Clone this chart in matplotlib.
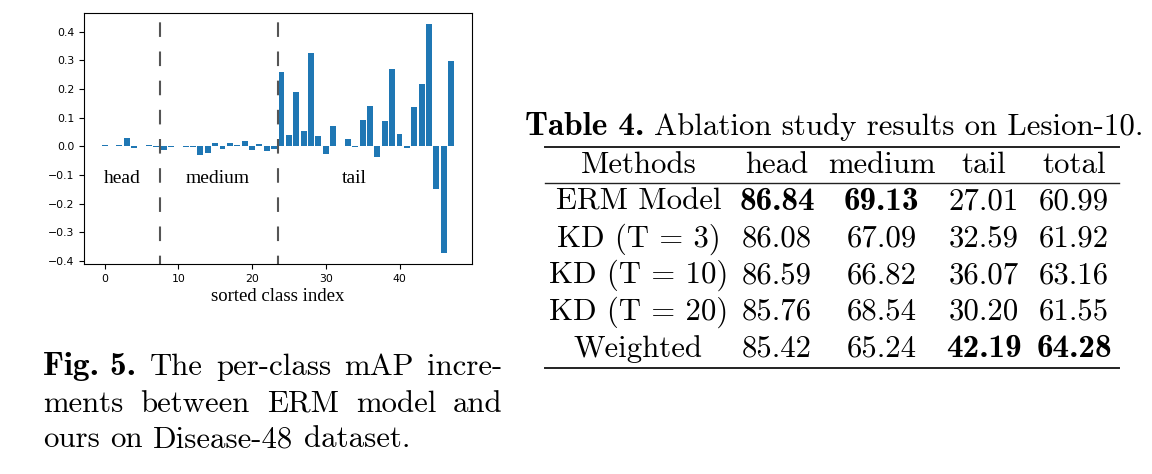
import numpy as np
import matplotlib
matplotlib.use('Agg')
import matplotlib.pyplot as plt
from matplotlib.lines import Line2D

# per-class mAP increments, sorted class index 0..47
increments = [0.003, 0.002, 0.003, 0.029, -0.005, 0.002, 0.004, -0.002,
              -0.013, -0.001, 0.001, -0.001, -0.003, -0.029, -0.022, 0.012,
              -0.008, 0.010, 0.005, 0.018, -0.013, 0.009, -0.015, -0.008,
              0.259, 0.039, 0.189, 0.053, 0.325, 0.036, -0.027, 0.071,
              0.002, 0.026, -0.004, 0.092, 0.140, -0.037, 0.088, 0.269,
              0.043, -0.005, 0.137, 0.217, 0.425, -0.148, -0.371, 0.297]
group_bounds = [7.5, 23.5]
group_names = ['head', 'medium', 'tail']
group_label_x = [2.4, 15.3, 33.8]

# Table 4 data
methods = ['ERM Model', 'KD (T = 3)', 'KD (T = 10)', 'KD (T = 20)', 'Weighted']
col_names = ['Methods', 'head', 'medium', 'tail', 'total']
head = [86.84, 86.08, 86.59, 85.76, 85.42]
medium = [69.13, 67.09, 66.82, 68.54, 65.24]
tail = [27.01, 32.59, 36.07, 30.20, 42.19]
total = [60.99, 61.92, 63.16, 61.55, 64.28]

table_title = ('Table 4.', 'Ablation study results on Lesion-10.')
caption_lines = [
    ('Fig. 5.', ['The', 'per-class', 'mAP', 'incre-']),
    (None, ['ments', 'between', 'ERM', 'model', 'and']),
    (None, ['ours', 'on', 'Disease-48', 'dataset.']),
]

W, H = 1152, 474
fig = plt.figure(figsize=(W / 100, H / 100), dpi=100)
renderer = fig.canvas.get_renderer()

RM, BF = 'cmr10', 'cmb10'
TXT = 22.2
BTXT = TXT * 1.08  # cmb10 is narrower than LaTeX's bold extended


def fxy(x, y):
    return x / W, 1 - y / H


def measure(s, family, size):
    t = fig.text(0, 0, s, family=family, fontsize=size)
    w = t.get_window_extent(renderer).width
    t.remove()
    return w


# ---- bar chart ----
ax = fig.add_axes([84 / W, 1 - 264 / H, (471.7 - 84) / W, (264 - 13) / H])
idx = np.arange(len(increments))
ax.bar(idx, increments, color='#1f77b4', width=0.8)
for b in group_bounds:
    ax.axvline(b, color='#555555', lw=1.5, linestyle=(3, (7, 7)))
for name, gx in zip(group_names, group_label_x):
    ax.text(gx, -0.128, name, ha='center', va='baseline',
            family='Liberation Serif', fontsize=14)
ax.set_yticks(np.arange(-0.4, 0.41, 0.1))
ax.tick_params(labelsize=7.8)
ax.set_xlabel('sorted class index', family='Liberation Serif', fontsize=13.5,
              labelpad=3)

# ---- caption ----
space_w = measure('a a', RM, TXT) - measure('aa', RM, TXT)
cap_x0, cap_x1 = 43.3, 502.7
cap_y = [375, 411.7, 447]
for li, ((bold, words), y) in enumerate(zip(caption_lines, cap_y)):
    tokens = ([(bold, BF, BTXT)] if bold else []) + [(w_, RM, TXT) for w_ in words]
    widths = [measure(t, f, s) for t, f, s in tokens]
    last = li == len(caption_lines) - 1
    gap = space_w if last else (cap_x1 - cap_x0 - sum(widths)) / (len(tokens) - 1)
    x = cap_x0
    for (t, f, s), w_ in zip(tokens, widths):
        fig.text(*fxy(x, y), t, family=f, fontsize=s, va='baseline')
        x += w_ + gap

# ---- table ----
tx = 525
fig.text(*fxy(tx, 135), table_title[0], family=BF, fontsize=BTXT, va='baseline')
tx += measure(table_title[0], BF, BTXT) + space_w
fig.text(*fxy(tx, 135), table_title[1], family=RM, fontsize=TXT, va='baseline')

col_x = [638.5, 777, 881.5, 984, 1074]
header_y = 172.7
row_y = [210, 246.7, 283, 320, 356.7]
for cx, name in zip(col_x, col_names):
    fig.text(*fxy(cx, header_y), name, family=RM, fontsize=TXT,
             ha='center', va='baseline')
columns = [head, medium, tail, total]
for r, (m, y) in enumerate(zip(methods, row_y)):
    fig.text(*fxy(col_x[0], y), m, family=RM, fontsize=TXT,
             ha='center', va='baseline')
    for c, vals in enumerate(columns):
        best = vals[r] == max(vals)
        fig.text(*fxy(col_x[c + 1], y), f'{vals[r]:.2f}',
                 family=BF if best else RM, fontsize=BTXT if best else TXT,
                 ha='center', va='baseline')

for y, lw in [(146.7, 1.4), (183.3, 1.0), (367.7, 1.4)]:
    fig.add_artist(Line2D([545 / W, 1119 / W], [1 - y / H] * 2,
                          transform=fig.transFigure, color='#222222', lw=lw))

fig.savefig('out.png', dpi=100)
